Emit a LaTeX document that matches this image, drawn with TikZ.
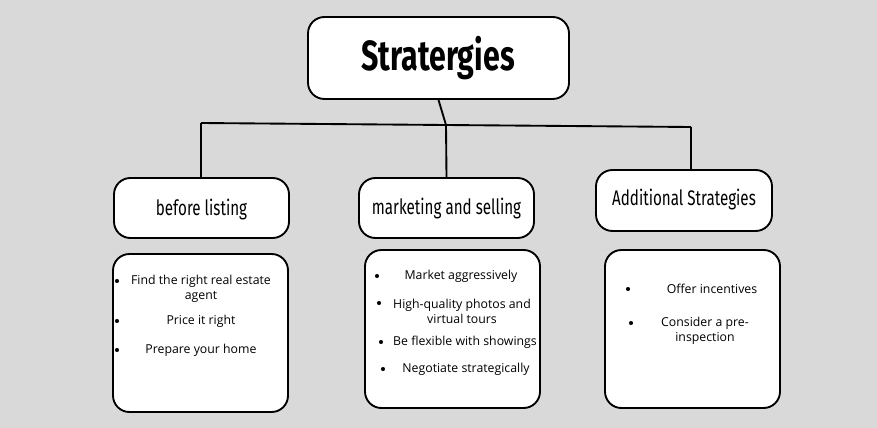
\documentclass[tikz,border=0pt]{standalone}
\usepackage{fontspec}
\setmainfont{Open Sans}
\newfontfamily\headfont[FakeStretch=0.72]{Fira Sans}
\usetikzlibrary{positioning}
\definecolor{bg_grey}{RGB}{217, 217, 217}

\tikzset{
  box/.style={draw=black, line width=1.6pt, fill=white, rounded corners=14pt, inner sep=0pt},
  head/.style={font=\headfont\fontsize{18pt}{20pt}\selectfont},
  item/.style={font=\fontsize{10.5pt}{13pt}\selectfont, align=center},
  dot/.style={circle, fill=black, inner sep=0pt, minimum size=3.5pt},
  link/.style={line width=1.6pt}
}

\begin{document}
\begin{tikzpicture}[x=0.03cm, y=-0.03cm]
				\fill[bg_grey] (0,0) rectangle (877,428);
				
				% Title
				\node[box, minimum width=261*0.03cm, minimum height=82*0.03cm] (title) at (438.5,58) {};
				\node[font=\headfont\bfseries\fontsize{36pt}{40pt}\selectfont] (titletext) at (438,58) {Stratergies};
				
				% Headers
				\node[box, minimum width=175*0.03cm, minimum height=60*0.03cm] (before) at (201.5,208) {};
				\node[head] at (201.5,210) {before listing};
				\node[box, minimum width=175*0.03cm, minimum height=60*0.03cm] (market) at (446.5,208) {};
				\node[head] at (446.5,209) {marketing and selling};
				\node[box, minimum width=176*0.03cm, minimum height=61*0.03cm] (extra) at (684,200.5) {};
				\node[head] at (684,200) {Additional Strategies};
				
				% Connectors
				\coordinate (split) at (446,125);
				\coordinate (lefttop) at (201,123);
				\coordinate (righttop) at (691,127);
				\draw[link] (title.south) -- (split);
				\draw[link] (lefttop) -- (righttop);
				\draw[link] (lefttop) -- (lefttop |- before.north);
				\draw[link] (split) -- (market.north);
				\draw[link] (righttop) -- (righttop |- extra.north);
				
				% Content boxes
				\node[box, minimum width=175*0.03cm, minimum height=158*0.03cm] (beforelist) at (200.5,333) {};
				\node[box, minimum width=175*0.03cm, minimum height=158*0.03cm] (marketlist) at (452.5,329) {};
				\node[box, minimum width=175*0.03cm, minimum height=158*0.03cm] (extralist) at (692.5,329) {};
				
				% Items
				\node[dot] at (117,281) {};
				\node[item] at (201,289) {Find the right real estate\\agent};
				\node[dot] at (117,321) {};
				\node[item] at (201,321) {Price it right};
				\node[dot] at (117,350) {};
				\node[item] at (201,350) {Prepare your home};
				
				\node[dot] at (377,276) {};
				\node[item] at (461,276) {Market aggressively};
				\node[dot] at (379,303) {};
				\node[item] at (462,311) {High-quality photos and\\virtual tours};
				\node[dot] at (381,342) {};
				\node[item] at (465,342) {Be flexible with showings};
				\node[dot] at (383,369) {};
				\node[item] at (466,369) {Negotiate strategically};
				
				\node[dot] at (628,289) {};
				\node[item] at (712,289) {Offer incentives};
				\node[dot] at (631,323) {};
				\node[item] at (705,331) {Consider a pre-\\inspection};
\end{tikzpicture}
\end{document}
